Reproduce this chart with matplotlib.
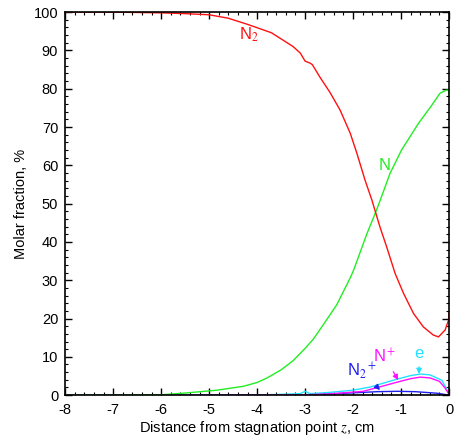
import numpy as np
import matplotlib
matplotlib.use("Agg")
import matplotlib.pyplot as plt
from matplotlib.ticker import MultipleLocator

plt.rcParams['font.family'] = ['Liberation Sans', 'DejaVu Sans']
plt.rcParams['mathtext.fontset'] = 'stix'
plt.rcParams['axes.unicode_minus'] = False

# N2 molar fraction, %
z_n2 = [-8, -7, -6, -5.5, -5, -4.6, -4.2, -3.7, -3.25, -3.1, -3.0, -2.9, -2.85,
        -2.69, -2.48, -2.27, -2.06, -1.92, -1.75, -1.61, -1.44, -1.30, -1.125,
        -0.95, -0.74, -0.535, -0.33, -0.22, -0.083, -0.01, 0]
n2 = [100, 100, 99.8, 99.6, 99.3, 98.4, 96.8, 94.6, 91, 89.3, 87.2, 86.7, 86.3,
      83, 79, 74.4, 68.4, 63.1, 56.1, 51, 43.9, 38.7, 31.8,
      26.6, 21.3, 17.8, 15.7, 15.2, 17.0, 19.6, 21.7]

# N
z_n = [-8, -7, -6, -5.54, -4.83, -4.29, -4.0, -3.79, -3.5, -3.25, -3.0, -2.83,
       -2.62, -2.34, -2.06, -1.99, -1.71, -1.54, -1.44, -1.23, -0.99, -0.64,
       -0.36, -0.19, -0.06, -0.01, 0]
n = [0, 0, 0.1, 0.5, 1.3, 2.3, 3.3, 4.5, 6.6, 9.0, 12.2, 14.6,
     18.4, 23.6, 30.6, 32.6, 42.2, 47.4, 50.7, 57.9, 64, 70.9,
     75.7, 78.8, 79.6, 79.6, 78.3]

# ions and electrons
z_e = [-8, -4, -3.5, -3.1, -3.0, -2.9, -2.5, -2.0, -1.65, -1.4, -1.08, -0.8,
       -0.6, -0.4, -0.15, -0.04, 0]
e = [0, 0.05, 0.2, 0.4, 1.0, 0.4, 0.7, 1.3, 2.1, 3.0, 4.2, 5.1, 5.5, 5.3, 3.9,
     1.3, 0.2]

z_np = [-8, -4, -3.0, -2.5, -2.0, -1.79, -1.4, -1.08, -0.8, -0.6, -0.4, -0.2,
        -0.08, 0]
n_plus = [0, 0, 0.1, 0.3, 0.8, 1.0, 2.3, 3.4, 4.3, 4.7, 4.5, 3.6, 1.8, 0.2]

z_n2p = [-8, -3, -2.5, -2, -1.5, -1.08, -0.7, -0.25, 0]
n2_plus = [0, 0.1, 0.3, 0.6, 0.9, 1.0, 0.9, 0.5, 0]

z_other = [-8, 0]
other = [0, 0]

fig = plt.figure(figsize=(4.62, 4.48), dpi=100)
ax = fig.add_axes([0.141, 0.118, 0.831, 0.855])

ax.plot(z_other, other, color='#1a2a5a', lw=1.0)
ax.plot(z_n2p, n2_plus, color='#2020ee', lw=1.0)
ax.plot(z_e, e, color='#22e0ff', lw=1.0)
ax.plot(z_np, n_plus, color='#ff10ff', lw=1.0)
ax.plot(z_n, n, color='#22ee22', lw=1.0)
ax.plot(z_n2, n2, color='#ff1010', lw=1.0)

ax.text(-4.17, 94, r'N$_2$', color='#ff1010', fontsize=12, ha='center', va='center')
ax.text(-1.35, 60, 'N', color='#22ee22', fontsize=12, ha='center', va='center')

arrow_kw = dict(arrowstyle='-|>', lw=0.9, mutation_scale=8, shrinkB=0)
ax.annotate(r'N$_2{}^+$', xy=(-1.44, 1.3), xytext=(-1.81, 6.4), color='#2020ee',
            fontsize=12, ha='center', va='center',
            arrowprops=dict(color='#2020ee', shrinkA=3, **arrow_kw))
ax.annotate(r'N$^+$', xy=(-1.06, 3.9), xytext=(-1.35, 10.2), color='#ff10ff',
            fontsize=12, ha='center', va='center',
            arrowprops=dict(color='#ff10ff', shrinkA=3, **arrow_kw))
ax.annotate('e', xy=(-0.625, 5.5), xytext=(-0.625, 10.8), color='#22e0ff',
            fontsize=12, ha='center', va='center',
            arrowprops=dict(color='#22e0ff', shrinkA=2, **arrow_kw))

ax.set_xlim(-8, 0)
ax.set_ylim(0, 100)
ax.xaxis.set_major_locator(MultipleLocator(1))
ax.xaxis.set_minor_locator(MultipleLocator(0.2))
ax.yaxis.set_major_locator(MultipleLocator(10))
ax.yaxis.set_minor_locator(MultipleLocator(2))
ax.tick_params(which='both', direction='in', top=True, right=True, labelsize=10.5)
ax.tick_params(which='major', length=5, width=1)
ax.tick_params(which='minor', length=2.5, width=0.8)
ax.tick_params(axis='x', which='major', pad=6)
ax.tick_params(axis='y', which='major', pad=5)
for s in ax.spines.values():
    s.set_linewidth(1.2)

ax.set_xlabel(r'Distance from stagnation point $z$, cm', fontsize=10.5, labelpad=1)
ax.set_ylabel('Molar fraction, %', fontsize=10.5, labelpad=4)

fig.savefig('out.png', dpi=100)
